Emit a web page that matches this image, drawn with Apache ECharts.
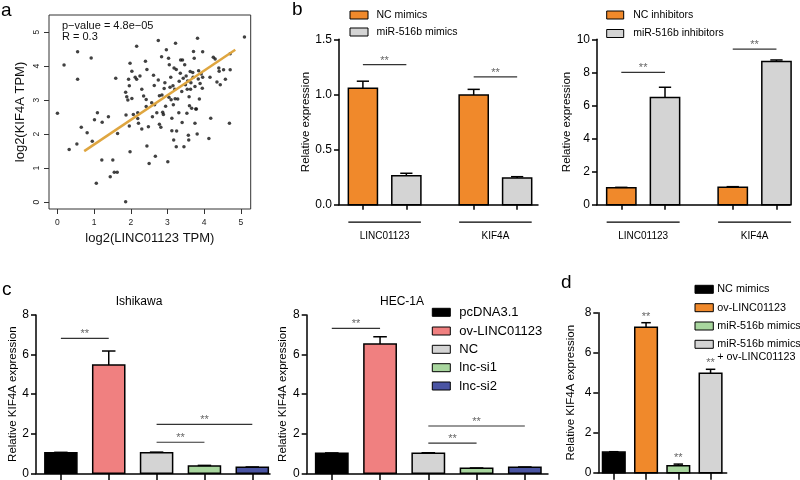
<!DOCTYPE html>
<html><head><meta charset="utf-8">
<script src="https://cdn.jsdelivr.net/npm/echarts@6/dist/echarts.min.js"></script>
<style>html,body{margin:0;padding:0;background:#fff}#c{width:800px;height:480px}</style>
</head><body><div id="c"></div>
<script>
// ================= DATA =================
// Panel a: scatter of log2(LINC01123 TPM) vs log2(KIF4A TPM)
const scatterX = [0,0.18,0.55,0.55,0.32,0.53,0.65,0.81,0.92,0.95,1.01,1.09,1.06,1.22,1.21,1.39,1.44,1.51,1.55,1.63,1.59,1.64,1.86,1.86,1.89,1.92,1.94,1.96,1.98,2.03,1.96,1.87,1.98,2.03,2.07,2.12,2.16,2.16,2.19,2.19,2.21,2.25,2.3,2.3,2.35,2.4,2.42,2.42,2.44,2.44,2.48,2.5,2.57,2.59,2.62,2.64,2.65,2.67,2.71,2.75,2.75,2.78,2.78,2.82,2.84,2.85,2.87,2.89,2.91,2.93,2.95,2.97,3.01,3.03,3.04,3.05,3.07,3.09,3.1,3.12,3.12,3.15,3.16,3.17,3.18,3.2,3.21,3.22,3.24,3.24,3.25,3.28,3.31,3.32,3.35,3.36,3.39,3.4,3.41,3.43,3.45,3.47,3.49,3.51,3.53,3.54,3.55,3.57,3.58,3.59,3.6,3.62,3.63,3.64,3.66,3.69,3.7,3.71,3.73,3.75,3.75,3.77,3.79,3.81,3.82,3.84,3.85,3.87,3.89,3.92,3.95,3.96,3.96,4.13,4.16,4.18,4.25,4.3,4.35,4.4,4.41,4.44,4.53,4.58,4.69,4.71,4.71,5.1];
const scatterY = [2.61,4.03,4.42,3.61,1.55,1.71,2.2,2.04,4.24,1.79,2.42,2.63,0.56,2.35,1.24,2.51,0.75,1.24,0.88,0.88,3.64,2.02,0.01,3.23,3.1,3.0,3.61,3.42,4.08,3.85,2.24,2.56,1.48,3.05,2.58,3.67,4.58,3.61,2.63,2.46,2.32,3.71,2.15,3.32,3.12,4.14,3.02,2.81,3.9,1.65,2.22,1.14,2.92,2.51,3.73,3.43,2.86,1.35,2.63,4.75,3.59,3.13,2.29,2.2,4.27,3.15,2.64,2.58,3.34,3.51,2.82,4.48,1.19,4.23,3.08,4.04,3.38,3.67,3.01,2.47,2.1,3.42,2.86,1.83,3.94,3.32,3.04,4.67,1.63,3.9,2.09,3.03,2.63,3.55,3.79,4.18,3.25,2.34,4.18,3.64,1.63,4.04,3.45,3.71,2.61,3.32,3.56,1.97,1.83,3.1,2.83,3.84,3.32,3.51,2.76,3.81,3.67,4.43,4.23,3.4,2.32,2.74,2.74,2.0,4.82,3.62,3.86,3.03,3.49,3.77,3.35,4.42,3.67,1.87,3.67,2.47,4.26,4.21,3.53,3.94,3.85,3.45,3.89,3.61,2.32,3.89,4.36,4.85];
const fitLineX = [0.73, 4.85];
const fitLineY = [1.5, 4.48];
const scatterTicks = [0, 1, 2, 3, 4, 5];
const statsText = ['p\u2212value = 4.8e\u221205', 'R = 0.3'];

// Panel b
const bGenes = ['LINC01123', 'KIF4A'];
const bLeftNames = ['NC mimics', 'miR-516b mimics'];
const ncMimics = [1.055, 0.995];
const ncMimicsErr = [0.065, 0.051];
const mirMimics = [0.263, 0.242];
const mirMimicsErr = [0.022, 0.012];
const bLeftSig = [[0, 1, 1.27], [2, 3, 1.16]];   // bar index from, bar index to, line level
const bRightNames = ['NC inhibitors', 'miR-516b inhibitors'];
const ncInhib = [1.03, 1.05];
const ncInhibErr = [0.02, 0.04];
const mirInhib = [6.48, 8.66];
const mirInhibErr = [0.62, 0.09];
const bRightSig = [[0, 1, 8.0], [2, 3, 9.4]];

// Panel c
const cTitles = ['Ishikawa', 'HEC-1A'];
const cGroups = ['pcDNA3.1', 'ov-LINC01123', 'NC', 'lnc-si1', 'lnc-si2'];
const ishikawa = [1.04, 5.47, 1.04, 0.37, 0.30];
const ishikawaErr = [0.02, 0.71, 0.03, 0.03, 0.02];
const hec1a = [1.01, 6.53, 1.01, 0.25, 0.30];
const hec1aErr = [0.02, 0.37, 0.03, 0.02, 0.02];
const ishikawaSig = [[0, 1, 6.82], [2, 3, 1.57], [2, 4, 2.47]];
const hec1aSig = [[0, 1, 7.32], [2, 3, 1.52], [2, 4, 2.39]];

// Panel d
const dGroups = ['NC mimics', 'ov-LINC01123', 'miR-516b mimics', 'miR-516b mimics\n+ ov-LINC01123'];
const dValues = [1.03, 7.27, 0.35, 4.97];
const dErr = [0.02, 0.23, 0.08, 0.20];
const dStars = ['', '**', '**', '**'];

// ================= STYLE =================
const FONT = "'Liberation Sans', Arial, Helvetica, sans-serif";
const ORANGE = '#F0892B', GREY = '#D4D4D4', PINK = '#F08080', GREEN = '#A8D69E', BLUE = '#4A54A3', BLACK = '#000000';
const bColors = [ORANGE, GREY];
const cColors = [BLACK, PINK, GREY, GREEN, BLUE];
const dColors = [BLACK, ORANGE, GREEN, GREY];
const GROUP_STEP = 2.55;
const BW = 0.67;

function bPositions() { const p = []; for (let g = 0; g < 2; g++) for (let i = 0; i < 2; i++) p.push(g * GROUP_STEP + i); return p; }
const bPos = bPositions();
const cPos = cGroups.map((_, i) => i);
const dPos = dGroups.map((_, i) => i);

function bItems(a, aErr, b, bErr) {
  const out = [];
  for (let g = 0; g < 2; g++) {
    out.push({ value: [bPos[g * 2], a[g], aErr[g]], itemStyle: { color: bColors[0] } });
    out.push({ value: [bPos[g * 2 + 1], b[g], bErr[g]], itemStyle: { color: bColors[1] } });
  }
  return out;
}
function seqItems(pos, vals, errs, colors) {
  return vals.map((v, i) => ({ value: [pos[i], v, errs[i]], itemStyle: { color: colors[i] } }));
}

function barRender(bwUnits, stars) {
  return function (params, api) {
    const x = api.value(0), y = api.value(1), e = api.value(2);
    const bw = api.size([bwUnits, 0])[0];
    const p0 = api.coord([x, 0]);
    const p1 = api.coord([x, y]);
    const pe = api.coord([x, y + e]);
    const ch = [{ type: 'rect', shape: { x: p0[0] - bw / 2, y: p1[1], width: bw, height: p0[1] - p1[1] },
      style: { fill: api.visual('color'), stroke: '#000', lineWidth: 1.5 } }];
    if (e > 0) {
      const cap = bw * 0.42;
      ch.push({ type: 'line', shape: { x1: p1[0], y1: p1[1], x2: pe[0], y2: pe[1] }, style: { stroke: '#000', lineWidth: 1.5 } });
      ch.push({ type: 'line', shape: { x1: pe[0] - cap / 2, y1: pe[1], x2: pe[0] + cap / 2, y2: pe[1] }, style: { stroke: '#000', lineWidth: 1.5 } });
    }
    if (stars && stars[params.dataIndex]) {
      ch.push({ type: 'text', style: { x: pe[0], y: pe[1] - 6, text: stars[params.dataIndex], fill: '#666', font: '11px ' + FONT, align: 'center', verticalAlign: 'middle' } });
    }
    return { type: 'group', children: ch };
  };
}
function sigRender(params, api) {
  const a = api.coord([api.value(0), api.value(2)]);
  const b = api.coord([api.value(1), api.value(2)]);
  return { type: 'group', children: [
    { type: 'line', shape: { x1: a[0], y1: a[1], x2: b[0], y2: b[1] }, style: { stroke: '#333', lineWidth: 1.2 } },
    { type: 'text', style: { x: (a[0] + b[0]) / 2, y: a[1] - 4, text: '**', fill: '#666', font: '11px ' + FONT, align: 'center', verticalAlign: 'middle' } }
  ] };
}
function sigData(sig, pos) { return sig.map(s => [pos[s[0]], pos[s[1]], s[2]]); }
function underRender(params, api) {
  const a = api.coord([api.value(0), 0]);
  const b = api.coord([api.value(1), 0]);
  const y = a[1] + 17.5;
  return { type: 'group', children: [
    { type: 'line', shape: { x1: a[0], y1: y, x2: b[0], y2: y }, style: { stroke: '#000', lineWidth: 1.2 } },
    { type: 'text', style: { x: (a[0] + b[0]) / 2, y: y + 14, text: bGenes[params.dataIndex], fill: '#000', font: '10px ' + FONT, align: 'center', verticalAlign: 'middle' } }
  ] };
}
const underData = bGenes.map((_, g) => [bPos[g * 2] - BW / 2, bPos[g * 2 + 1] + BW / 2]);

function barX(grid, min, max, ticks, tickLen) {
  return { gridIndex: grid, type: 'value', min: min, max: max,
    axisLine: { show: true, onZero: false, lineStyle: { color: '#000', width: 1.5 } },
    axisTick: { show: true, length: tickLen, customValues: ticks, lineStyle: { color: '#000', width: 1.5 } },
    axisLabel: { show: false }, splitLine: { show: false } };
}
function barY(grid, max, interval, name, gap, dec) {
  return { gridIndex: grid, type: 'value', min: 0, max: max, interval: interval,
    axisLine: { show: true, onZero: false, lineStyle: { color: '#000', width: 1.5 } },
    axisTick: { show: true, length: 5, lineStyle: { color: '#000', width: 1.5 } },
    axisLabel: { fontSize: 12, margin: 7, color: '#000', fontFamily: FONT, formatter: v => dec ? v.toFixed(1) : String(v) },
    splitLine: { show: false },
    name: name, nameLocation: 'middle', nameGap: gap,
    nameTextStyle: { fontSize: 11.5, color: '#000', fontFamily: FONT } };
}

// legend drawn as real text with swatches
function legend(x, rows, names, colors, sw, sh, tgap, fs, lh) {
  const els = [];
  names.forEach((n, i) => {
    els.push({ type: 'rect', shape: { x: x, y: rows[i] - sh / 2, width: sw, height: sh }, style: { fill: colors[i], stroke: '#000', lineWidth: 1 } });
    els.push({ type: 'text', style: { x: x + sw + tgap, y: rows[i] - lh / 2, text: n, fill: '#000', font: fs + 'px ' + FONT, lineHeight: lh, verticalAlign: 'top' } });
  });
  return els;
}
function label(t, x, y, fs) {
  return { type: 'text', style: { x: x, y: y, text: t, fill: '#000', font: fs + 'px ' + FONT, verticalAlign: 'top' } };
}

const chart = echarts.init(document.getElementById('c'), null, { renderer: 'canvas' });
const option = {
  animation: false,
  backgroundColor: '#fff',
  grid: [
    { left: 49, top: 15, right: 549.3, bottom: 271, show: true, borderColor: '#333', borderWidth: 1 },
    { left: 339, top: 39.3, right: 262, bottom: 275.3 },
    { left: 597, top: 39.3, right: 10, bottom: 275.3 },
    { left: 36, top: 315, right: 530, bottom: 6.7 },
    { left: 306.7, top: 315, right: 252, bottom: 6.7 },
    { left: 598.3, top: 312.7, right: 73.3, bottom: 7.3 }
  ],
  xAxis: [
    { gridIndex: 0, type: 'value', min: -0.23, max: 5.27,
      axisLine: { show: false, onZero: false }, splitLine: { show: false },
      axisTick: { show: true, length: 5, customValues: scatterTicks, lineStyle: { color: '#333' } },
      axisLabel: { customValues: scatterTicks, fontSize: 8.5, margin: 9, color: '#222', fontFamily: FONT },
      name: 'log2(LINC01123 TPM)', nameLocation: 'middle', nameGap: 22.5,
      nameTextStyle: { fontSize: 13, color: '#111', fontFamily: FONT } },
    barX(1, -0.55, 4.03, bPos, 5),
    barX(2, -0.556, 3.86, bPos, 5),
    barX(3, -0.52, 4.37, cPos, 7),
    barX(4, -0.52, 4.48, cPos, 7),
    barX(5, -0.48, 3.5, dPos, 7)
  ],
  yAxis: [
    { gridIndex: 0, type: 'value', min: -0.2, max: 5.5,
      axisLine: { show: false, onZero: false }, splitLine: { show: false },
      axisTick: { show: true, length: 5, customValues: scatterTicks, lineStyle: { color: '#333' } },
      axisLabel: { customValues: scatterTicks, fontSize: 8.5, margin: 8, color: '#222', rotate: 90, fontFamily: FONT },
      name: 'log2(KIF4A TPM)', nameLocation: 'middle', nameGap: 22,
      nameTextStyle: { fontSize: 13, color: '#111', fontFamily: FONT } },
    barY(1, 1.5, 0.5, 'Relative expression', 26, true),
    barY(2, 10, 2, 'Relative expression', 20.5, false),
    barY(3, 8, 2, 'Relative KIF4A expression', 13.3, false),
    barY(4, 8, 2, 'Relative KIF4A expression', 13.4, false),
    barY(5, 8, 2, 'Relative KIF4A expression', 21, false)
  ],
  series: [
    { type: 'scatter', xAxisIndex: 0, yAxisIndex: 0, symbolSize: 3.5, itemStyle: { color: '#111' },
      data: scatterX.map((x, i) => [x, scatterY[i]]) },
    { type: 'line', xAxisIndex: 0, yAxisIndex: 0, showSymbol: false, lineStyle: { color: '#DFA640', width: 2.5 },
      data: fitLineX.map((x, i) => [x, fitLineY[i]]) },
    // b left
    { type: 'custom', xAxisIndex: 1, yAxisIndex: 1, renderItem: barRender(BW), data: bItems(ncMimics, ncMimicsErr, mirMimics, mirMimicsErr) },
    { type: 'custom', xAxisIndex: 1, yAxisIndex: 1, renderItem: sigRender, data: sigData(bLeftSig, bPos) },
    { type: 'custom', xAxisIndex: 1, yAxisIndex: 1, renderItem: underRender, data: underData },
    // b right
    { type: 'custom', xAxisIndex: 2, yAxisIndex: 2, renderItem: barRender(BW), data: bItems(ncInhib, ncInhibErr, mirInhib, mirInhibErr) },
    { type: 'custom', xAxisIndex: 2, yAxisIndex: 2, renderItem: sigRender, data: sigData(bRightSig, bPos) },
    { type: 'custom', xAxisIndex: 2, yAxisIndex: 2, renderItem: underRender, data: underData },
    // c
    { type: 'custom', xAxisIndex: 3, yAxisIndex: 3, renderItem: barRender(BW), data: seqItems(cPos, ishikawa, ishikawaErr, cColors) },
    { type: 'custom', xAxisIndex: 3, yAxisIndex: 3, renderItem: sigRender, data: sigData(ishikawaSig, cPos) },
    { type: 'custom', xAxisIndex: 4, yAxisIndex: 4, renderItem: barRender(BW), data: seqItems(cPos, hec1a, hec1aErr, cColors) },
    { type: 'custom', xAxisIndex: 4, yAxisIndex: 4, renderItem: sigRender, data: sigData(hec1aSig, cPos) },
    // d
    { type: 'custom', xAxisIndex: 5, yAxisIndex: 5, renderItem: barRender(0.7, dStars), data: seqItems(dPos, dValues, dErr, dColors) }
  ],
  graphic: [
    label('a', 1, 1, 19), label('b', 292, 0, 19), label('c', 2, 280, 19), label('d', 561, 273, 19),
    { type: 'text', style: { x: 62, y: 20, text: statsText.join('\n'), fill: '#111', font: '11px ' + FONT, lineHeight: 11, verticalAlign: 'top' } },
    { type: 'text', style: { x: 139, y: 302, text: cTitles[0], fill: '#000', font: '12px ' + FONT, align: 'center', verticalAlign: 'middle' } },
    { type: 'text', style: { x: 402, y: 302, text: cTitles[1], fill: '#000', font: '12px ' + FONT, align: 'center', verticalAlign: 'middle' } }
  ].concat(
    legend(350, [15, 32], bLeftNames, bColors, 18, 8, 8.5, 10.5, 12),
    legend(606.7, [15, 33.5], bRightNames, bColors, 17, 8, 9.5, 10.5, 12),
    legend(432.3, [312.3, 331, 349.3, 367.7, 386], cGroups, cColors, 18, 8, 9, 13, 14),
    legend(695, [289.3, 307.7, 326, 344.3], dGroups, dColors, 18.3, 8, 4, 10.8, 12.4)
  )
};
chart.setOption(option);
</script>
</body></html>
